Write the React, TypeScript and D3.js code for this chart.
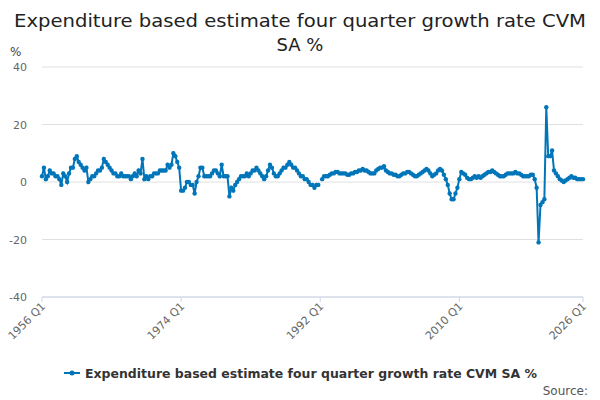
import * as d3 from 'd3';

const startYear = 1956;
const values: (number | null)[] = [
  2, 5, 1, 2, 4, 3, 3, 2, 2, 1, -1, 3, 2, 0, 3, 5,
  5, 8, 9, 7, 6, 5, 4, 5, 0, 1, 2, 2, 3, 4, 4, 5,
  8, 7, 6, 5, 4, 3, 3, 2, 2, 3, 2, 2, 2, 2, 1, 2,
  3, 2, 4, 3, 8, 1, 2, 1, 2, 2, 3, 3, 3, 4, 4, 4,
  4, 6, 5, 6, 10, 9, 7, 5, -3, -3, -2, 0, 0, -1, -1, -4,
  0, 2, 5, 5, 2, 2, 2, 2, 3, 4, 4, 3, 2, 6, 2, 2,
  2, -5, -2, -3, -1, 0, 1, 2, 2, 2, 3, 2, 3, 4, 4, 5,
  4, 3, 2, 1, 2, 4, 6, 5, 3, 2, 2, 3, 4, 5, 5, 6,
  7, 6, 5, 5, 4, 3, 2, 2, 1, 1, 0, -1, -1, -2, -1, -1,
  null, 1, 2, 2, 2, 2.5, 3, 3, 3.5, 3.5, 3, 3, 3, 3, 2.5, 2.5,
  3, 3, 3.5, 3.5, 4, 4, 4.5, 4, 4, 3.5, 3, 3, 3, 4, 4.5, 5,
  5, 5.5, 4, 3.5, 3, 3, 2.5, 2.5, 2, 2, 2.5, 3, 3, 3.5, 3.5, 3,
  2.5, 2, 2, 2.5, 3, 3.5, 4, 4.5, 4, 3, 2, 2.5, 3, 4, 4.5, 4,
  2.5, 1, -1, -4, -6, -6, -4, -2, 1, 3.5, 3, 2.5, 1.5, 1, 1, 1.5,
  2, 1.5, 2, 1.5, 2, 2.5, 3, 3.5, 3.5, 4, 3.5, 3, 2.5, 2, 2, 2,
  2.5, 3, 3, 3, 3, 3.5, 3, 3, 2.5, 2, 2, 2, 2, 2.5, 2.5, 1,
  -2, -21, -8, -7, -6, 26, 9, 9, 11, 4, 3, 2, 1, 0.5, 0, 0.5,
  1, 1.5, 2, 1.5, 1.5, 1, 1, 1, 1,
];
const yTicks = [-40, -20, 0, 20, 40];
const xTickYears = [1956, 1974, 1992, 2010, 2026];
const seriesName = 'Expenditure based estimate four quarter growth rate CVM SA %';
const color = '#0075b8';

export default function App() {
  const x = d3.scaleLinear().domain([0, values.length - 1]).range([42, 583]);
  const y = d3.scaleLinear().domain([-40, 40]).range([297, 67]);
  const line = d3.line<number | null>()
    .defined((d) => d !== null)
    .x((_, i) => x(i))
    .y((d) => y(d as number));

  return (
    <svg width={600} height={400} style={{ position: 'absolute', left: 0, top: 0, fontFamily: '"DejaVu Sans", sans-serif' }}>
      <text x={300} y={27} textAnchor="middle" fontSize={18} fill="#222" textLength={572} lengthAdjust="spacingAndGlyphs">Expenditure based estimate four quarter growth rate CVM</text>
      <text x={300} y={51} textAnchor="middle" fontSize={18} fill="#222">SA %</text>
      <text x={10} y={56} fontSize={12} fill="#444">%</text>
      {yTicks.map((t) => (
        <g key={t}>
          <line x1={42} x2={583} y1={y(t)} y2={y(t)} stroke="#e0e0e0" />
          <text x={27} y={y(t) + 4} textAnchor="end" fontSize={11} fill="#666">{t}</text>
        </g>
      ))}
      <line x1={42} x2={583} y1={297} y2={297} stroke="#ccd6eb" />
      {xTickYears.map((yr) => {
        const xi = x((yr - startYear) * 4);
        return (
          <g key={yr}>
            <line x1={xi} x2={xi} y1={297} y2={302} stroke="#ccd6eb" />
            <text transform={`translate(${xi + 4},${307}) rotate(-45)`} textAnchor="end" fontSize={11} fill="#666">{`${yr} Q1`}</text>
          </g>
        );
      })}
      <path d={line(values) || undefined} fill="none" stroke={color} strokeWidth={2} />
      {values.map((v, i) => v === null ? null : (
        <circle key={i} cx={x(i)} cy={y(v)} r={2.2} fill={color} />
      ))}
      <line x1={64} x2={80} y1={373} y2={373} stroke={color} strokeWidth={2} />
      <circle cx={72} cy={373} r={2.5} fill={color} />
      <text x={85} y={377.5} fontSize={13} fontWeight="bold" fill="#333" textLength={452} lengthAdjust="spacingAndGlyphs">{seriesName}</text>
      <text x={588} y={395} textAnchor="end" fontSize={12} fill="#555">Source:</text>
    </svg>
  );
}
